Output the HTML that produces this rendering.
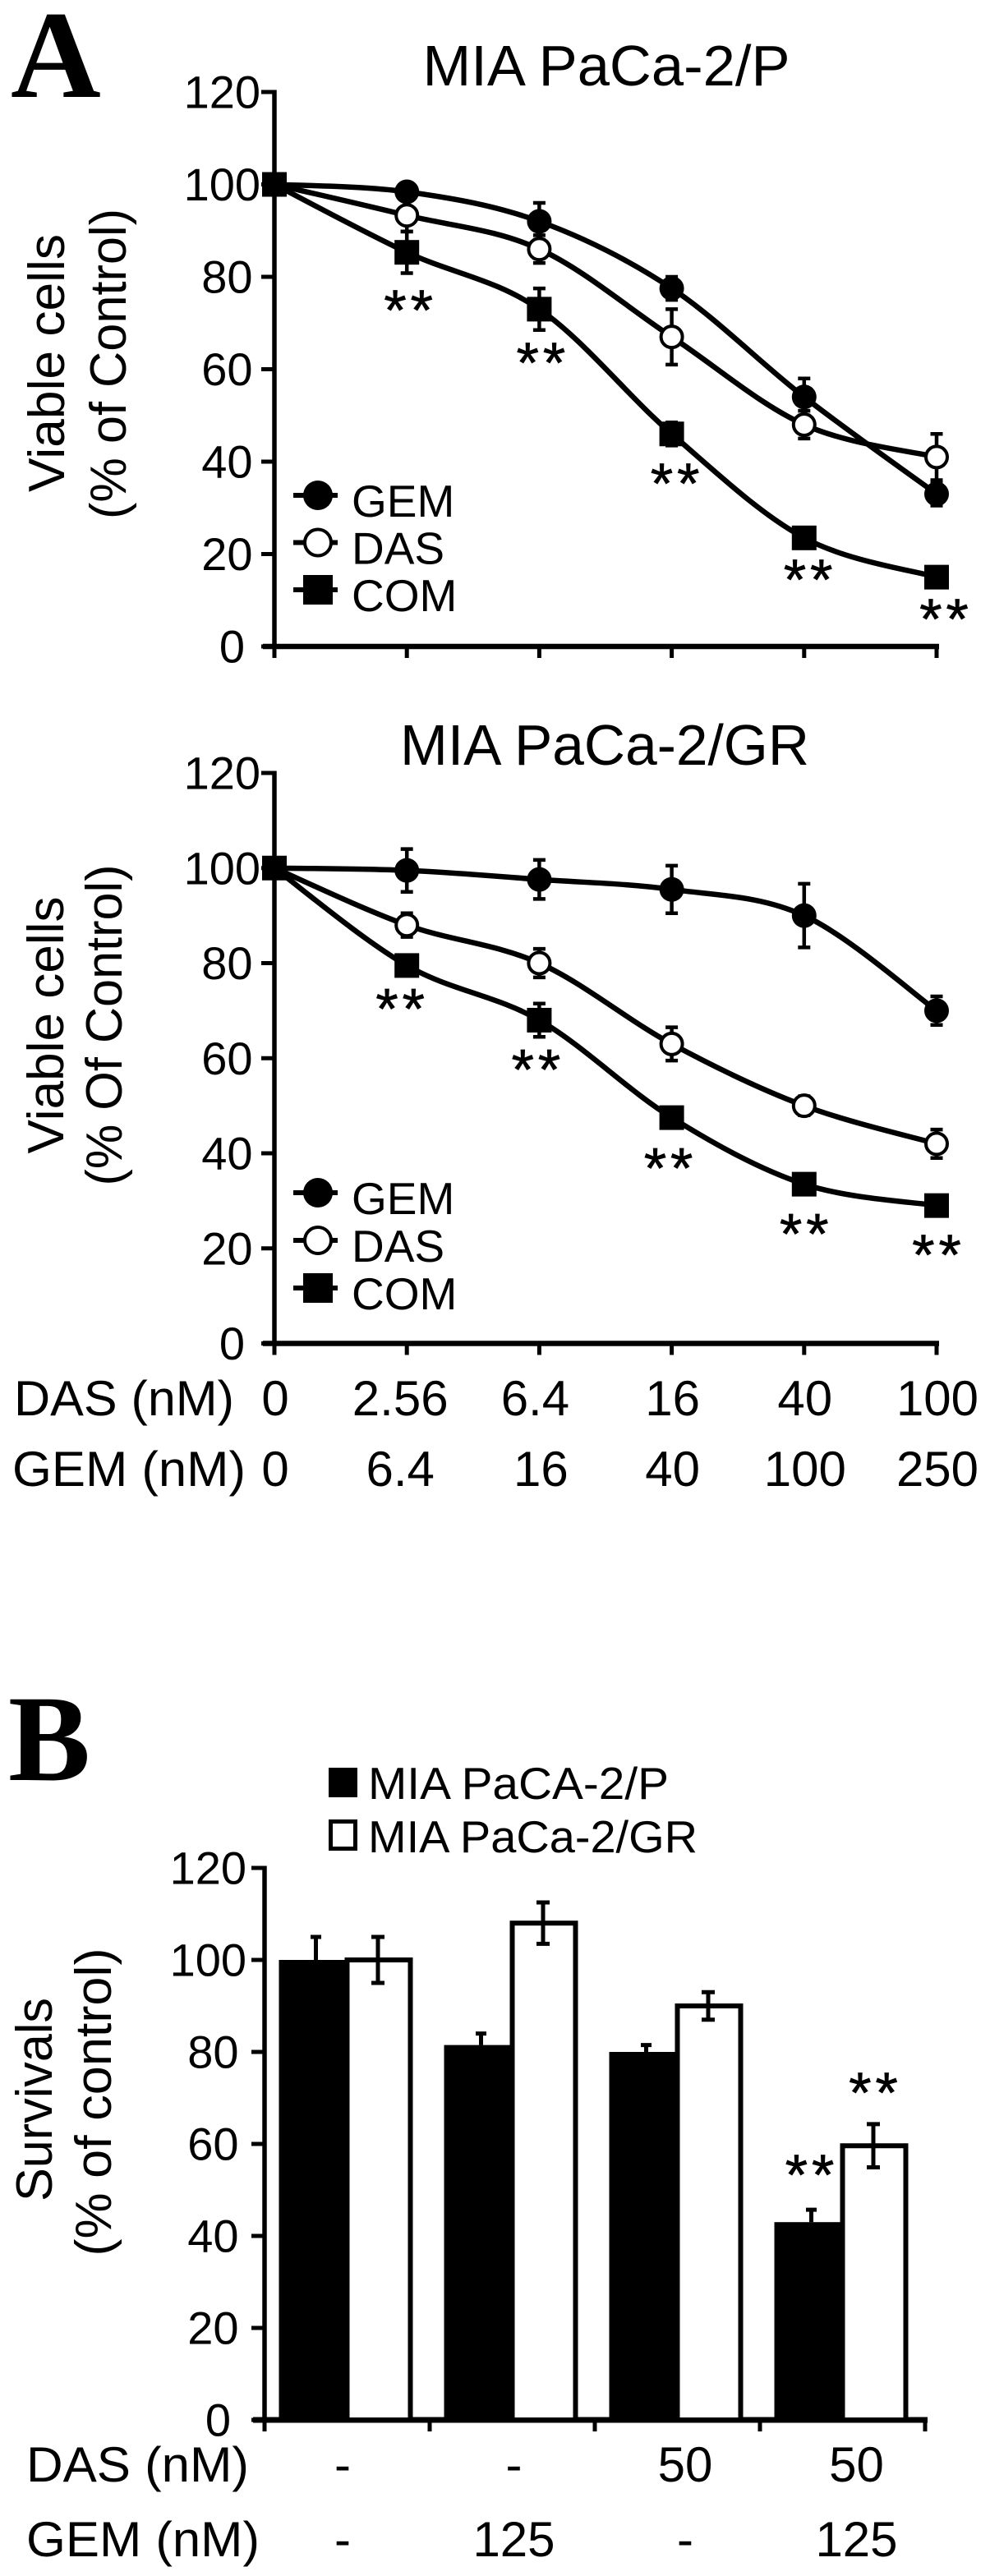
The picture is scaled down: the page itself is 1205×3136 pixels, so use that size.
<!DOCTYPE html>
<html lang="en">
<head>
<meta charset="utf-8">
<title>MIA PaCa-2 viability charts</title>
<style>
html,body{margin:0;padding:0;background:#fff;}
svg{display:block;}
text{font-family:"Liberation Sans",Arial,sans-serif;fill:#000;}
.serif{font-family:"Liberation Serif","Times New Roman",serif;font-weight:700;}
.tick{font-size:56px;text-anchor:end;}
.title{font-size:70px;text-anchor:middle;}
.axis-title{font-size:62px;text-anchor:middle;}
.legend{font-size:55px;}
.cat{font-size:60px;text-anchor:middle;}
.rowlabel{font-size:60px;}
.star{font-size:70px;text-anchor:middle;letter-spacing:5px;stroke:#000;stroke-width:0.8px;}
</style>
</head>
<body>
<svg id="figure" xmlns="http://www.w3.org/2000/svg" width="1205" height="3136" viewBox="0 0 1205 3136">
  <rect x="0" y="0" width="1205" height="3136" fill="#fff"/>

  <text class="serif" x="13" y="118" font-size="152">A</text>
  <text class="serif" x="10" y="2167" font-size="150">B</text>

  <text class="title" x="738" y="104" textLength="447" lengthAdjust="spacingAndGlyphs">MIA PaCa-2/P</text>
  <text class="axis-title" transform="translate(78 442) rotate(-90)" textLength="314" lengthAdjust="spacingAndGlyphs">Viable cells</text>
  <text class="axis-title" transform="translate(153 443) rotate(-90)" textLength="378" lengthAdjust="spacingAndGlyphs">(% of Control)</text>

  <text class="title" x="736" y="931" textLength="498" lengthAdjust="spacingAndGlyphs">MIA PaCa-2/GR</text>
  <text class="axis-title" transform="translate(77 1248) rotate(-90)" textLength="313" lengthAdjust="spacingAndGlyphs">Viable cells</text>
  <text class="axis-title" transform="translate(148 1248) rotate(-90)" textLength="391" lengthAdjust="spacingAndGlyphs">(% Of Control)</text>

  <text class="rowlabel" x="17" y="1723" textLength="268" lengthAdjust="spacingAndGlyphs">DAS (nM)</text>
  <text class="rowlabel" x="15" y="1809" textLength="284" lengthAdjust="spacingAndGlyphs">GEM (nM)</text>

  <text class="axis-title" transform="translate(63 2556) rotate(-90)" textLength="248" lengthAdjust="spacingAndGlyphs">Survivals</text>
  <text class="axis-title" transform="translate(135 2559) rotate(-90)" textLength="375" lengthAdjust="spacingAndGlyphs">(% of control)</text>

  <rect x="400" y="2152" width="35" height="36" fill="#000"/>
  <text class="legend" x="448" y="2190" textLength="366" lengthAdjust="spacingAndGlyphs">MIA PaCA-2/P</text>
  <rect x="402.5" y="2217.5" width="30" height="33" fill="#fff" stroke="#000" stroke-width="5"/>
  <text class="legend" x="448" y="2255" textLength="401" lengthAdjust="spacingAndGlyphs">MIA PaCa-2/GR</text>

  <text class="rowlabel" x="32" y="3021" textLength="271" lengthAdjust="spacingAndGlyphs">DAS (nM)</text>
  <text class="rowlabel" x="32" y="3112" textLength="284" lengthAdjust="spacingAndGlyphs">GEM (nM)</text>

  <g id="plots"></g>
</svg>

<script>
// Shared tick labels
const yTickLabels = [0, 20, 40, 60, 80, 100, 120];
const dasDoses = ["0", "2.56", "6.4", "16", "40", "100"];
const gemDoses = ["0", "6.4", "16", "40", "100", "250"];
const seriesNames = ["GEM", "DAS", "COM"];

// Chart A1: MIA PaCa-2/P
const a1Gem = [100, 98.4, 92, 77.5, 54, 33];
const a1GemErr = [0, 1.5, 4, 2.5, 4, 2.5];
const a1Das = [100, 93.3, 86, 67, 48, 41];
const a1DasErr = [0, 3.5, 3, 6, 3, 5];
const a1Com = [100, 85.3, 73, 46, 23.5, 15];
const a1ComErr = [0, 4.5, 4.5, 2.5, 1, 1];
const a1StarLevels = [74.1, 62.8, 36.6, 15.8, 7.3];
const a1StarShift = [0.012, 0.012, 0.025, 0.03, 0.056];

// Chart A2: MIA PaCa-2/GR
const a2Gem = [100, 99.5, 97.6, 95.5, 90, 70];
const a2GemErr = [0, 4.5, 4.1, 5, 6.7, 3];
const a2Das = [100, 88, 80, 63, 50, 42];
const a2DasErr = [0, 2.5, 3, 3.5, 2, 3];
const a2Com = [100, 79.5, 68, 47.5, 33.5, 29];
const a2ComErr = [0, 1, 3.5, 2, 2, 1.5];
const a2StarLevels = [71.7, 58.9, 38.2, 24.4, 20];
const a2StarShift = [-0.05, -0.025, -0.025, 0, 0];

// Chart B: survival bars
const bDasRow = ["-", "-", "50", "50"];
const bGemRow = ["-", "125", "-", "125"];
const bParental = [100, 81.5, 80, 43];
const bParentalErr = [5, 2.5, 1.5, 2.7];
const bResistant = [100, 108, 90, 59.6];
const bResistantErr = [5, 4.5, 3, 4.7];
const bStarLevels = [54.6, 72.5];

const NS = "http://www.w3.org/2000/svg";
const root = document.getElementById("plots");

function add(tag, attrs, parent) {
  const el = document.createElementNS(NS, tag);
  for (const k in attrs) el.setAttribute(k, attrs[k]);
  (parent || root).appendChild(el);
  return el;
}

function smoothPath(pts) {
  let d = "M" + pts[0][0] + " " + pts[0][1];
  for (let i = 0; i < pts.length - 1; i++) {
    const p0 = pts[Math.max(i - 1, 0)];
    const p1 = pts[i];
    const p2 = pts[i + 1];
    const p3 = pts[Math.min(i + 2, pts.length - 1)];
    const c1x = p1[0] + (p2[0] - p0[0]) / 6;
    const c1y = p1[1] + (p2[1] - p0[1]) / 6;
    const c2x = p2[0] - (p3[0] - p1[0]) / 6;
    const c2y = p2[1] - (p3[1] - p1[1]) / 6;
    d += "C" + c1x + " " + c1y + " " + c2x + " " + c2y + " " + p2[0] + " " + p2[1];
  }
  return d;
}

function drawMarker(kind, cx, cy, parent, big) {
  const r = big ? 18 : 15;
  if (kind === "GEM") {
    return add("circle", { cx: cx, cy: cy, r: r, fill: "#000" }, parent);
  }
  if (kind === "DAS") {
    return add("circle", { cx: cx, cy: cy, r: r - 2, fill: "#fff", stroke: "#000", "stroke-width": 4 }, parent);
  }
  return add("rect", { x: cx - r, y: cy - r, width: 2 * r, height: 2 * r, fill: "#000" }, parent);
}

function drawAxes(cfg, xs, y, g, tickCount) {
  const yAxis = add("line", { x1: cfg.x0, x2: cfg.x0, y1: y(120) - 2.5, y2: y(0) + 3, stroke: "#000", "stroke-width": 5.5 }, g);
  
  
  const xAxis = add("line", { x1: cfg.x0 - 14, x2: xs(tickCount - 1) + 3, y1: y(0), y2: y(0), stroke: "#000", "stroke-width": cfg.xAxisWidth }, g);
  
  
  yTickLabels.forEach(function (v) {
    const t = add("line", { x1: cfg.x0 - 16, x2: cfg.x0, y1: y(v), y2: y(v), stroke: "#000", "stroke-width": 5 }, g);
    
    
    const label = String(v);
    const l = add("text", { class: "tick", x: cfg.labelEnd + 9.5 * (label.length - 1), y: y(v) + 19.5 }, g);
    l.textContent = label;
    
    
  });
  for (let i = 0; i < tickCount; i++) {
    const t = add("line", { x1: xs(i), x2: xs(i), y1: y(0), y2: y(0) + 14, stroke: "#000", "stroke-width": 5 }, g);
    
    
  }
}

function drawStar(x, yv, g) {
  const s = add("text", { class: "star", x: x + 2.5, y: yv + 31.5 }, g);
  s.textContent = "**";
  
  
}

function drawLinePanel(cfg) {
  const g = add("g", {});
  
  
  const xs = function (i) { return cfg.x0 + cfg.step * i; };
  const y = function (v) { return cfg.y0 - (cfg.y0 - cfg.y120) * v / 120; };
  drawAxes(cfg, xs, y, g, 6);

  seriesNames.forEach(function (name, si) {
    const vals = cfg.values[si];
    const errs = cfg.errors[si];
    const pts = vals.map(function (v, i) { return [xs(i), y(v)]; });
    const line = add("path", { d: smoothPath(pts), fill: "none", stroke: "#000", "stroke-width": 6.5 }, g);
    
    
    vals.forEach(function (v, i) {
      if (errs[i] > 0) {
        const up = y(v + errs[i]);
        const dn = y(v - errs[i]);
        const eb = add("path", {
          d: "M" + xs(i) + " " + up + "V" + dn + "M" + (xs(i) - 7.5) + " " + up + "H" + (xs(i) + 7.5) + "M" + (xs(i) - 7.5) + " " + dn + "H" + (xs(i) + 7.5),
          fill: "none", stroke: "#000", "stroke-width": 4.5
        }, g);
        
        
      }
    });
  });
  [2, 1, 0].forEach(function (si) {
    const name = seriesNames[si];
    cfg.values[si].forEach(function (v, i) {
      const m = drawMarker(name, xs(i), y(v), g, false);
      
      
    });
  });
  cfg.starLevels.forEach(function (lv, i) {
    drawStar(xs(i + 1 + cfg.starShift[i]), y(lv), g);
  });
  seriesNames.forEach(function (name, si) {
    const ly = cfg.legendY + cfg.legendGap * si;
    const ll = add("line", { x1: 357, x2: 411, y1: ly, y2: ly, stroke: "#000", "stroke-width": 6 }, g);
    
    
    const lm = drawMarker(name, 387, ly, g, true);
    
    
    const lt = add("text", { class: "legend", x: 428, y: ly + 26 }, g);
    lt.textContent = name;
    
    
  });
  return { xs: xs, g: g };
}

const panelA1 = drawLinePanel({
  name: "chart-a1",
  x0: 334, step: 161.2, y0: 787, y120: 112, labelEnd: 298, xAxisWidth: 6.5,
  values: [a1Gem, a1Das, a1Com],
  errors: [a1GemErr, a1DasErr, a1ComErr],
  starLevels: a1StarLevels, starShift: a1StarShift,
  legendY: 603, legendGap: 57.5
});

const panelA2 = drawLinePanel({
  name: "chart-a2",
  x0: 334, step: 161.2, y0: 1635.5, y120: 941, labelEnd: 298, xAxisWidth: 6.5,
  values: [a2Gem, a2Das, a2Com],
  errors: [a2GemErr, a2DasErr, a2ComErr],
  starLevels: a2StarLevels, starShift: a2StarShift,
  legendY: 1452, legendGap: 58
});

dasDoses.forEach(function (d, i) {
  const t = add("text", { class: "cat", x: panelA2.xs(i) + (i === 1 ? -8 : i === 2 ? -5 : 1), y: 1723 }, panelA2.g);
  t.textContent = d;
  
  
});
gemDoses.forEach(function (d, i) {
  const t = add("text", { class: "cat", x: panelA2.xs(i) + (i === 1 ? -8 : i === 2 ? 2 : 1), y: 1809 }, panelA2.g);
  t.textContent = d;
  
  
});

(function drawBars() {
  const g = add("g", {});
  
  
  const cfg = { x0: 322, labelEnd: 281, xAxisWidth: 7 };
  const band = 201;
  const xs = function (i) { return cfg.x0 + band * i; };
  const y = function (v) { return 2946 - (2946 - 2274) * v / 120; };
  drawAxes(cfg, xs, y, g, 5);

  bParental.forEach(function (v, i) {
    const c = xs(i) + band / 2;
    const r = add("rect", { x: c - 83, y: y(v), width: 86, height: y(0) - y(v), fill: "#000" }, g);
    
    
    const ex = c - 38;
    const up = y(v + bParentalErr[i]);
    const eb = add("path", {
      d: "M" + ex + " " + up + "V" + y(v) + "M" + (ex - 6.5) + " " + up + "H" + (ex + 6.5),
      fill: "none", stroke: "#000", "stroke-width": 5
    }, g);
    
    
  });
  bResistant.forEach(function (v, i) {
    const c = xs(i) + band / 2;
    const r = add("rect", { x: c, y: y(v), width: 77, height: y(0) - y(v), fill: "#fff", stroke: "#000", "stroke-width": 6 }, g);
    
    
    const ex = c + 37.5;
    const up = y(v + bResistantErr[i]);
    const dn = y(v - bResistantErr[i]);
    const eb = add("path", {
      d: "M" + ex + " " + up + "V" + dn + "M" + (ex - 8) + " " + up + "H" + (ex + 8) + "M" + (ex - 8) + " " + dn + "H" + (ex + 8),
      fill: "none", stroke: "#000", "stroke-width": 5
    }, g);
    
    
  });
  bStarLevels.forEach(function (lv, i) {
    const c = xs(3) + band / 2;
    drawStar(c + (i === 0 ? -40 : 37.5), y(lv), g);
  });
  bDasRow.forEach(function (d, i) {
    const t = add("text", { class: "cat", x: xs(i) + 95 + i * 7.5, y: 3021 }, g);
    t.textContent = d;
    
    
  });
  bGemRow.forEach(function (d, i) {
    const t = add("text", { class: "cat", x: xs(i) + 95 + i * 7.5, y: 3112 }, g);
    t.textContent = d;
    
    
  });
})();
</script>
</body>
</html>
